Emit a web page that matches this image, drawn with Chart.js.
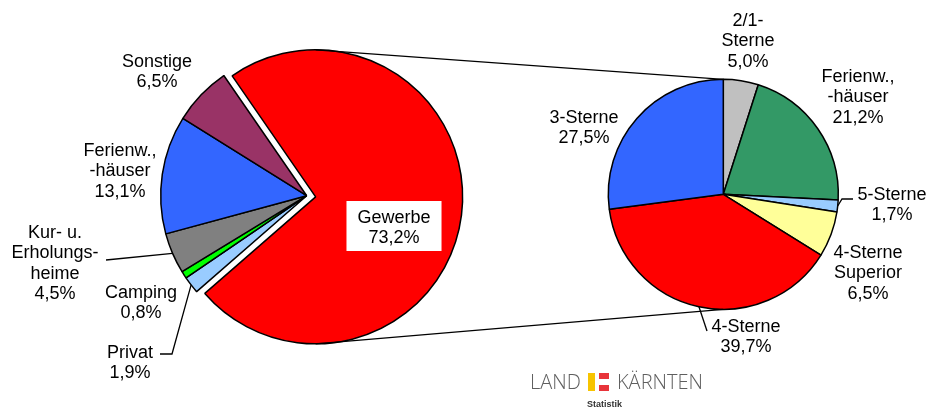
<!DOCTYPE html>
<html>
<head>
<meta charset="utf-8">
<script src="https://cdn.jsdelivr.net/npm/chart.js@4/dist/chart.umd.min.js"></script>
<style>
  body { margin: 0; background: #fff; }
  #wrap { position: relative; width: 929px; height: 409px; overflow: hidden; font-family: "Liberation Sans", Arial, sans-serif; }
  #wrap canvas { position: absolute; left: 0; top: 0; }
  .logo { position: absolute; color: #5f5f5f; font-family: "Open Sans", "Liberation Sans", sans-serif; font-weight: 300; font-size: 20px; line-height: 1; }
  .blk { position: absolute; }
</style>
</head>
<body>
<div id="wrap">
  <canvas id="pieLinks" width="929" height="409"></canvas>
  <canvas id="pieGewerbe" width="929" height="409"></canvas>
  <canvas id="pieRechts" width="929" height="409"></canvas>
  <div class="logo" style="left:530px;top:372px;">LAND</div>
  <div class="blk" style="left:588px;top:373px;width:7px;height:18px;background:#f7c400;"></div>
  <div class="blk" style="left:599px;top:373px;width:10px;height:6px;background:#e8343a;"></div>
  <div class="blk" style="left:599px;top:385px;width:10px;height:6px;background:#e8343a;"></div>
  <div class="logo" style="left:617px;top:372px;">KÄRNTEN</div>
  <div class="logo" style="left:587px;top:400px;font-size:9px;font-weight:700;color:#333;font-family:'Liberation Sans',sans-serif;">Statistik</div>
</div>
<script>
// ── Daten ─────────────────────────────────────────────
const kategorienLinks = ['Gewerbe', 'Privat', 'Camping', 'Kur- u. Erholungsheime', 'Ferienw., -häuser', 'Sonstige'];
const werteLinks = [73.2, 1.9, 0.8, 4.5, 13.1, 6.5];
const zeilenLinks = [['Gewerbe'], ['Privat'], ['Camping'], ['Kur- u.', 'Erholungs-', 'heime'], ['Ferienw.,', '-häuser'], ['Sonstige']];

const kategorienRechts = ['2/1-Sterne', 'Ferienw., -häuser', '5-Sterne', '4-Sterne Superior', '4-Sterne', '3-Sterne'];
const werteRechts = [5.0, 21.2, 1.7, 6.5, 39.7, 27.5];
const zeilenRechts = [['2/1-', 'Sterne'], ['Ferienw.,', '-häuser'], ['5-Sterne'], ['4-Sterne', 'Superior'], ['4-Sterne'], ['3-Sterne']];

const farbenLinks = ['#FF0000', '#99CCFF', '#00FF00', '#808080', '#3366FF', '#993366'];
const farbenRechts = ['#C0C0C0', '#339966', '#99CCFF', '#FFFF99', '#FF0000', '#3366FF'];

// ── Layout (Beschriftungen: Mitte x, erste Zeile y, optional Führungslinie) ──
const beschriftungLinks = [
  { x: 394, y: 218, box: true },
  { x: 130, y: 353, linie: [[160, 354], [172, 354]] },
  { x: 141, y: 293 },
  { x: 55, y: 233, linie: [[106, 260]] },
  { x: 120, y: 151 },
  { x: 157, y: 62 }
];
const beschriftungRechts = [
  { x: 748, y: 21 },
  { x: 858, y: 77 },
  { x: 892, y: 195, linie: [[853, 199], [842, 199]] },
  { x: 868, y: 253 },
  { x: 746, y: 327, linie: [[707, 331]] },
  { x: 584, y: 118 }
];

const prozent = v => v.toFixed(1).replace('.', ',') + '%';

function zeichneBeschriftung(ctx, meta, zeilen, werte, layout) {
  ctx.save();
  ctx.font = '18px "Liberation Sans", Arial, sans-serif';
  ctx.textAlign = 'center';
  ctx.textBaseline = 'middle';
  ctx.strokeStyle = '#000';
  ctx.lineWidth = 1.3;
  layout.forEach((l, i) => {
    const text = zeilen[i].concat(prozent(werte[i]));
    if (l.linie) {
      const arc = meta.data[i];
      const mid = (arc.startAngle + arc.endAngle) / 2;
      ctx.beginPath();
      ctx.moveTo(l.linie[0][0], l.linie[0][1]);
      l.linie.slice(1).forEach(p => ctx.lineTo(p[0], p[1]));
      ctx.lineTo(arc.x + Math.cos(mid) * arc.outerRadius, arc.y + Math.sin(mid) * arc.outerRadius);
      ctx.stroke();
    }
    if (l.box) {
      const w = Math.max(...text.map(t => ctx.measureText(t).width)) + 22;
      const h = text.length * 20.5 + 9;
      ctx.fillStyle = '#fff';
      ctx.fillRect(l.x - w / 2, l.y - 17, w, h);
    }
    ctx.fillStyle = '#000';
    text.forEach((t, k) => ctx.fillText(t, l.x, l.y + k * 20.5));
  });
  ctx.restore();
}

// ── Linker Kreis: Gewerbe wird herausgezogen (eigene Ebene, verschoben) ──
const drehung = -34.6;
const abstand = 9;
const summeLinks = werteLinks.reduce((a, b) => a + b, 0);
const mitte = (drehung + werteLinks[0] / summeLinks * 180 - 90) * Math.PI / 180;
const dx = Math.cos(mitte) * abstand;
const dy = Math.sin(mitte) * abstand;
const padLinks = { left: 146.7, right: 462.3, top: 35.7, bottom: 53.3 };

function optionen(radius, padding) {
  return {
    responsive: false,
    animation: false,
    events: [],
    rotation: drehung,
    radius: radius,
    layout: { padding: padding },
    plugins: { legend: { display: false }, tooltip: { enabled: false } }
  };
}

const chartLinks = new Chart(document.getElementById('pieLinks'), {
  type: 'pie',
  data: {
    labels: kategorienLinks,
    datasets: [{
      data: werteLinks,
      backgroundColor: farbenLinks.map((c, i) => i === 0 ? 'rgba(0,0,0,0)' : c),
      borderColor: '#000',
      borderWidth: werteLinks.map((v, i) => i === 0 ? 0 : 1.5),
      hoverOffset: 0
    }]
  },
  options: optionen(146, padLinks)
});

const chartGewerbe = new Chart(document.getElementById('pieGewerbe'), {
  type: 'pie',
  data: {
    labels: kategorienLinks,
    datasets: [{
      data: werteLinks,
      backgroundColor: farbenLinks.map((c, i) => i === 0 ? c : 'rgba(0,0,0,0)'),
      borderColor: '#000',
      borderWidth: werteLinks.map((v, i) => i === 0 ? 1.5 : 0),
      hoverOffset: 0
    }]
  },
  options: optionen(147, {
    left: padLinks.left + dx, right: padLinks.right - dx,
    top: padLinks.top + dy, bottom: padLinks.bottom - dy
  })
});

// ── Rechter Kreis: Aufteilung Gewerbe ──
const optRechts = optionen(115, { left: 603.3, right: 85.7, top: 74.3, bottom: 94.7 });
optRechts.rotation = 0;

new Chart(document.getElementById('pieRechts'), {
  type: 'pie',
  data: {
    labels: kategorienRechts,
    datasets: [{
      data: werteRechts,
      backgroundColor: farbenRechts,
      borderColor: '#000',
      borderWidth: 1.5,
      hoverOffset: 0
    }]
  },
  options: optRechts,
  plugins: [{
    id: 'verbindung',
    afterDraw(chart) {
      const ctx = chart.ctx;
      const g = chartGewerbe.getDatasetMeta(0).data[0];
      const r = chart.getDatasetMeta(0).data[0];
      ctx.save();
      ctx.strokeStyle = '#000';
      ctx.lineWidth = 1.3;
      ctx.beginPath();
      ctx.moveTo(g.x, g.y - g.outerRadius);
      ctx.lineTo(r.x, r.y - r.outerRadius);
      ctx.moveTo(g.x, g.y + g.outerRadius);
      ctx.lineTo(r.x, r.y + r.outerRadius);
      ctx.stroke();
      ctx.restore();
      zeichneBeschriftung(ctx, chartLinks.getDatasetMeta(0), zeilenLinks, werteLinks, beschriftungLinks);
      zeichneBeschriftung(ctx, chart.getDatasetMeta(0), zeilenRechts, werteRechts, beschriftungRechts);
    }
  }]
});
</script>
</body>
</html>
